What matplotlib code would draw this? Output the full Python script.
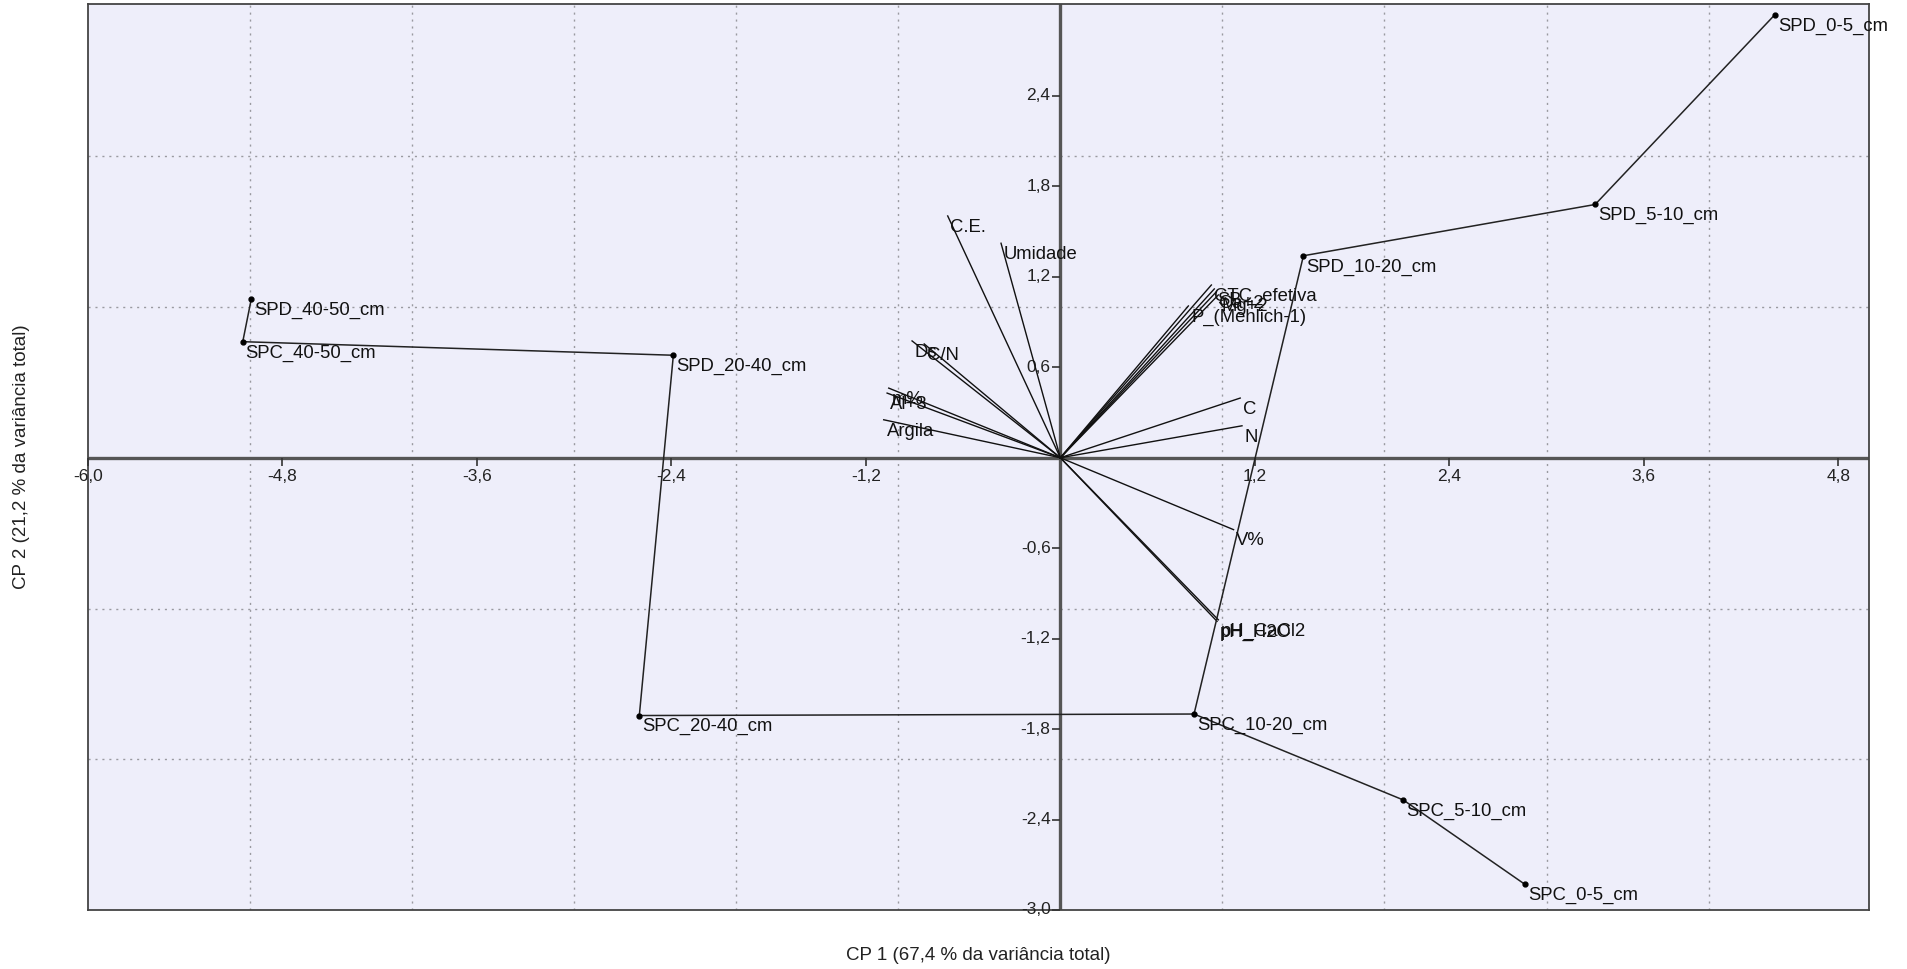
import matplotlib
matplotlib.use("Agg")
import matplotlib.pyplot as plt
import numpy as np

plt.rcParams['font.family'] = ['Liberation Sans', 'DejaVu Sans']

# ---- sample scores (CP1, CP2) ----
sample_names = ["SPD_0-5_cm", "SPD_5-10_cm", "SPD_10-20_cm", "SPC_10-20_cm",
                "SPC_5-10_cm", "SPC_0-5_cm", "SPC_20-40_cm", "SPD_20-40_cm",
                "SPC_40-50_cm", "SPD_40-50_cm"]
score_cp1 = [4.41, 3.30, 1.50, 0.825, 2.116, 2.867, -2.598, -2.388, -5.045, -4.993]
score_cp2 = [2.94, 1.68, 1.34, -1.70, -2.27, -2.83, -1.71, 0.68, 0.77, 1.05]

# minimal spanning tree connections between samples
mst_edges = [("SPD_0-5_cm", "SPD_5-10_cm"), ("SPD_5-10_cm", "SPD_10-20_cm"),
             ("SPD_10-20_cm", "SPC_10-20_cm"), ("SPC_10-20_cm", "SPC_5-10_cm"),
             ("SPC_5-10_cm", "SPC_0-5_cm"), ("SPC_10-20_cm", "SPC_20-40_cm"),
             ("SPC_20-40_cm", "SPD_20-40_cm"), ("SPD_20-40_cm", "SPC_40-50_cm"),
             ("SPC_40-50_cm", "SPD_40-50_cm")]

# ---- variable loadings (CP1, CP2) ----
var_names = ["C.E.", "Umidade", "Ds", "C/N", "m%", "Al+3", "Argila",
             "CTC_efetiva", "SB", "Ca+2", "Mg+2", "P_(Mehlich-1)",
             "C", "N", "V%", "pH_H2O", "pH_CaCl2"]
load_cp1 = [-0.695, -0.366, -0.915, -0.84, -1.059, -1.069, -1.090,
            0.932, 0.950, 0.962, 0.975, 0.790,
            1.110, 1.121, 1.069, 0.967, 0.975]
load_cp2 = [1.604, 1.423, 0.775, 0.755, 0.462, 0.429, 0.252,
            1.146, 1.120, 1.100, 1.080, 1.007,
            0.396, 0.212, -0.477, -1.085, -1.075]

# ---- axis ticks / grid ----
x_ticks = [-6.0, -4.8, -3.6, -2.4, -1.2, 1.2, 2.4, 3.6, 4.8]
y_ticks = [-3.0, -2.4, -1.8, -1.2, -0.6, 0.6, 1.2, 1.8, 2.4]
x_grid = [-5, -4, -3, -2, -1, 1, 2, 3, 4]
y_grid = [-2, -1, 1, 2]
x_title = "CP 1 (67,4 % da variância total)"
y_title = "CP 2 (21,2 % da variância total)"

W, H = 1908, 969
fig = plt.figure(figsize=(W / 100, H / 100), dpi=100)
fig.patch.set_facecolor("white")
L, R, T, B = 88, 1869, 4, 910
ax = fig.add_axes([L / W, 1 - B / H, (R - L) / W, (B - T) / H])
ax.set_facecolor("#EEEEFA")
ax.set_xlim(-6.0, 4.99)
ax.set_ylim(-3.0, 3.01)
ax.set_xticks([])
ax.set_yticks([])
for s in ax.spines.values():
    s.set_color("#444444")
    s.set_linewidth(1.3)

# grid
for g in x_grid:
    ax.axvline(g, color="#9a9aa0", lw=1.0, ls=(0, (1.5, 3.5)), zorder=1)
for g in y_grid:
    ax.axhline(g, color="#9a9aa0", lw=1.0, ls=(0, (1.5, 3.5)), zorder=1)

# zero axes
ax.axhline(0, color="#555555", lw=2.4, zorder=2)
ax.axvline(0, color="#555555", lw=2.4, zorder=2)

# ticks on the zero axes
ax.plot(x_ticks, np.zeros(len(x_ticks)), ls="none", marker=3, ms=6,
        mew=1.2, color="#333333", zorder=3, clip_on=False)
ax.plot(np.zeros(len(y_ticks)), y_ticks, ls="none", marker=0, ms=6,
        mew=1.2, color="#333333", zorder=3, clip_on=False)

def fmt(v):
    return f"{v:.1f}".replace(".", ",")

for v in x_ticks:
    ax.annotate(fmt(v), xy=(v, 0), xytext=(0, -8), textcoords="offset points",
                ha="center", va="top", fontsize=12.5, color="#222222",
                annotation_clip=False)
for v in y_ticks:
    ax.annotate(fmt(v), xy=(0, v), xytext=(-7, 0), textcoords="offset points",
                ha="right", va="center", fontsize=12.5, color="#222222",
                annotation_clip=False)

# loadings
for name, x, y in zip(var_names, load_cp1, load_cp2):
    ax.plot([0, x], [0, y], color="#111111", lw=1.0, zorder=4)
    ax.annotate(name, xy=(x, y), xytext=(2, -2), textcoords="offset points",
                ha="left", va="top", fontsize=13.3, color="#111111", zorder=6)

# MST lines between samples
pos = {n: (x, y) for n, x, y in zip(sample_names, score_cp1, score_cp2)}
for a, b in mst_edges:
    ax.plot([pos[a][0], pos[b][0]], [pos[a][1], pos[b][1]],
            color="#222222", lw=1.1, zorder=4)

ax.plot(score_cp1, score_cp2, ls="none", marker="o", ms=3.5,
        color="#000000", zorder=5)
for name, x, y in zip(sample_names, score_cp1, score_cp2):
    ax.annotate(name, xy=(x, y), xytext=(2, -2), textcoords="offset points",
                ha="left", va="top", fontsize=13.3, color="#111111", zorder=6,
                annotation_clip=False)

fig.text((L + R) / 2 / W, 1 - 956 / H, x_title, ha="center", va="center",
         fontsize=13.5, color="#222222")
fig.text(22 / W, 1 - 457 / H, y_title, ha="center", va="center",
         rotation=90, fontsize=13.5, color="#222222")

fig.savefig("out.png", dpi=100)
